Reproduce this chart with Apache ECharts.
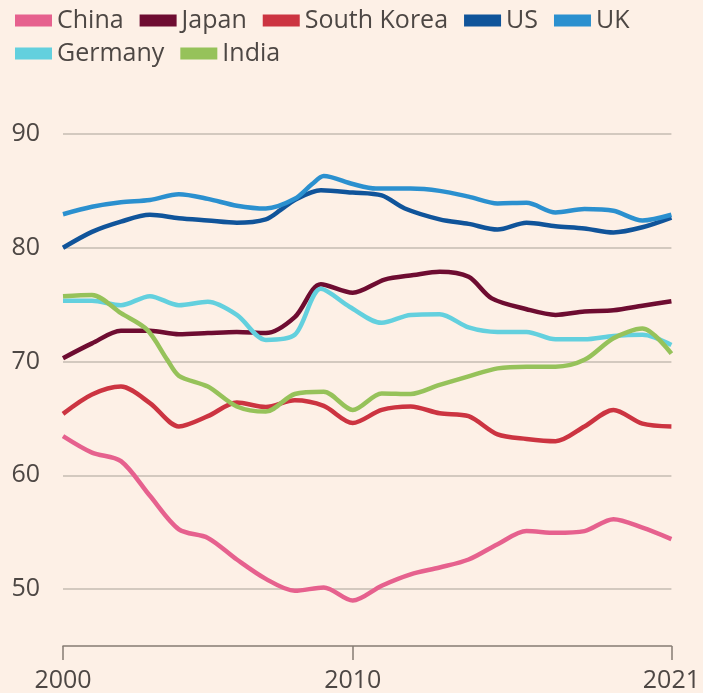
<!DOCTYPE html>
<html>
<head>
<meta charset="utf-8">
<script src="https://cdn.jsdelivr.net/npm/echarts@6/dist/echarts.min.js"></script>
<style>
  html, body { margin: 0; padding: 0; background: #fdf0e6; }
  #chart { width: 703px; height: 693px; }
</style>
</head>
<body>
<div id="chart"></div>
<script>
// [year, value] pairs
const china = [[2000,63.45],[2001,62.0],[2002,61.25],[2003,58.2],[2004,55.25],[2005,54.5],[2006,52.6],[2007,50.9],[2008,49.85],[2009,50.15],[2010,49.0],[2011,50.3],[2012,51.3],[2013,51.9],[2014,52.6],[2015,53.95],[2016,55.1],[2017,54.95],[2018,55.1],[2019,56.15],[2020,55.4],[2021,54.4]]
const japan = [[2000,70.3],[2001,71.6],[2002,72.7],[2003,72.7],[2004,72.4],[2005,72.5],[2006,72.6],[2007,72.5],[2008,73.9],[2008.9,76.8],[2010,76.05],[2011.1,77.2],[2012.1,77.6],[2013,77.9],[2014,77.45],[2014.8,75.55],[2016,74.6],[2017,74.1],[2018,74.4],[2019,74.5],[2020,74.9],[2021,75.3]]
const southKorea = [[2000,65.4],[2001,67.1],[2002,67.8],[2003,66.35],[2004,64.3],[2005,65.2],[2006,66.4],[2007,66.0],[2008,66.6],[2009,66.1],[2010,64.6],[2011,65.75],[2012,66.05],[2013,65.45],[2014,65.2],[2015,63.6],[2016,63.2],[2017,63.0],[2018,64.3],[2019,65.75],[2020,64.55],[2021,64.3]]
const us = [[2000,80.0],[2001,81.4],[2002,82.3],[2003,82.9],[2004,82.6],[2005,82.4],[2006,82.2],[2007,82.5],[2007.5,83.3],[2008,84.2],[2008.9,85.05],[2010,84.85],[2011,84.6],[2011.8,83.45],[2013,82.5],[2014,82.1],[2015,81.6],[2016,82.2],[2017,81.9],[2018,81.7],[2019,81.35],[2020,81.8],[2021,82.65]]
const uk = [[2000,82.95],[2001,83.6],[2002,84.0],[2003,84.2],[2004,84.7],[2005,84.3],[2006,83.7],[2007,83.45],[2008,84.3],[2008.6,85.6],[2009,86.3],[2010,85.6],[2010.8,85.2],[2012,85.2],[2013,85.0],[2014,84.5],[2015,83.9],[2016,83.95],[2017,83.1],[2018,83.4],[2019,83.25],[2020,82.4],[2021,82.9]]
const germany = [[2000,75.35],[2001,75.35],[2002,74.95],[2003,75.75],[2004,74.95],[2005,75.25],[2006,74.1],[2007,71.9],[2008,72.35],[2008.9,76.4],[2009.9,74.8],[2011,73.4],[2012,74.1],[2013,74.15],[2014,73.0],[2015,72.6],[2016,72.6],[2017,71.95],[2018,71.95],[2019,72.25],[2020,72.35],[2021,71.45]]
const india = [[2000,75.75],[2001,75.85],[2002,74.25],[2002.9,72.8],[2003.6,70.15],[2004,68.75],[2005,67.8],[2006,66.05],[2007,65.6],[2008,67.15],[2009,67.35],[2010,65.75],[2011,67.2],[2012,67.15],[2013,67.95],[2014,68.7],[2015,69.4],[2016,69.55],[2017,69.55],[2018,70.15],[2019,72.05],[2020,72.9],[2021,70.7]]

const xTicks = [2000, 2010, 2021]

const font = 'Open Sans'
const textColor = '#4d4744'

const mk = (name, data, color) => ({
  name: name,
  type: 'line',
  data: data,
  symbol: 'none',
  smooth: 0.3,
  lineStyle: { width: 4.5, color: color },
  itemStyle: { color: color },
})

const legendBase = {
  left: 10,
  icon: 'rect',
  itemWidth: 37,
  itemHeight: 12,
  itemGap: 16,
  textStyle: { fontFamily: font, fontSize: 25, color: textColor },
}

const option = {
  animation: false,
  backgroundColor: '#fdf0e6',
  legend: [
    Object.assign({}, legendBase, { top: 3, data: ['China', 'Japan', 'South Korea', 'US', 'UK'] }),
    Object.assign({}, legendBase, { top: 36, data: ['Germany', 'India'] }),
  ],
  grid: { left: 63, right: 25, top: 134, bottom: 45 },
  xAxis: {
    type: 'value',
    min: 2000,
    max: 2021,
    axisLine: { lineStyle: { color: '#857b73', width: 1.5 } },
    axisTick: { customValues: xTicks, length: 14, lineStyle: { color: '#857b73', width: 1.5 } },
    axisLabel: {
      customValues: xTicks,
      formatter: (v) => String(v),
      margin: 22,
      fontFamily: font,
      fontSize: 25,
      color: textColor,
    },
    splitLine: { show: false },
  },
  yAxis: {
    type: 'value',
    min: 45,
    max: 90,
    interval: 5,
    axisLine: { show: false },
    axisTick: { show: false },
    axisLabel: {
      formatter: (v) => (v % 10 === 0 ? String(v) : ''),
      margin: 23,
      fontFamily: font,
      fontSize: 25,
      color: textColor,
    },
    // only every other line (50, 60, ... 90) is visible
    splitLine: { lineStyle: { color: ['rgba(0,0,0,0)', '#d3c9bf'], width: 2 } },
  },
  series: [
    mk('China', china, '#e6618e'),
    mk('Japan', japan, '#6e0c31'),
    mk('South Korea', southKorea, '#cc3441'),
    mk('Germany', germany, '#63d0de'),
    mk('India', india, '#96c25a'),
    mk('US', us, '#10549a'),
    mk('UK', uk, '#2b90cf'),
  ],
}

const myChart = echarts.init(document.getElementById('chart'), null, { renderer: 'canvas' })
myChart.setOption(option)
</script>
</body>
</html>
